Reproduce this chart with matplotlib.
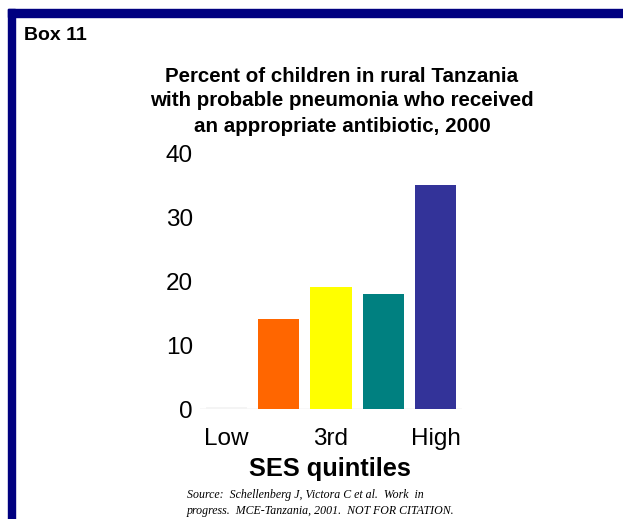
import matplotlib.pyplot as plt
from matplotlib.patches import Rectangle

plt.rcParams['font.family'] = ['Liberation Sans', 'DejaVu Sans']

# Data
quintiles = ['Low', '2nd', '3rd', '4th', 'High']
tick_labels = ['Low', '', '3rd', '', 'High']
percent = [0.3, 14.1, 19.1, 18.0, 35.0]
colors = ['#f4f4f4', '#ff6600', '#ffff00', '#008080', '#333399']

fig = plt.figure(figsize=(6.23, 5.19), dpi=100)
ax = fig.add_axes([200 / 623, 1 - 409 / 519, 262 / 623, 256 / 519])

x = range(len(quintiles))
ax.bar(x, percent, width=0.79, color=colors, zorder=2)
ax.axhline(0, color='#dddddd', lw=1.0, zorder=1)

ax.set_xlim(-0.5, 4.5)
ax.set_ylim(0, 40)
ax.set_yticks([0, 10, 20, 30, 40])
ax.set_xticks(list(x))
ax.set_xticklabels(tick_labels, fontsize=17.5)
ax.tick_params(axis='y', labelsize=17.5, length=0, pad=5)
ax.tick_params(axis='x', length=0, pad=14)
for s in ax.spines.values():
    s.set_visible(False)

# border lines (navy frame top & left)
fig.patches.append(Rectangle((8 / 623, 0), 7 / 623, 1 - 9 / 519,
                             transform=fig.transFigure, color='#000080'))
fig.patches.append(Rectangle((8 / 623, 1 - 17 / 519), 1, 8 / 519,
                             transform=fig.transFigure, color='#000080'))

fig.text(24 / 623, 1 - 35 / 519, 'Box 11', fontsize=14, fontweight='bold',
         va='center', ha='left')
fig.text(342 / 623, 1 - 101 / 519,
         'Percent of children in rural Tanzania\nwith probable pneumonia who received\nan appropriate antibiotic, 2000',
         fontsize=14.8, fontweight='bold', ha='center', va='center', linespacing=1.4)
fig.text(330 / 623, 1 - 469 / 519, 'SES quintiles', fontsize=18.3, fontweight='bold',
         ha='center', va='center')
fig.text(187 / 623, 1 - 503 / 519,
         'Source:  Schellenberg J, Victora C et al.  Work  in\nprogress.  MCE-Tanzania, 2001.  NOT FOR CITATION.',
         fontsize=8.6, style='italic', family='Liberation Serif', ha='left', va='center',
         linespacing=1.4)

fig.savefig('out.png', dpi=100)
